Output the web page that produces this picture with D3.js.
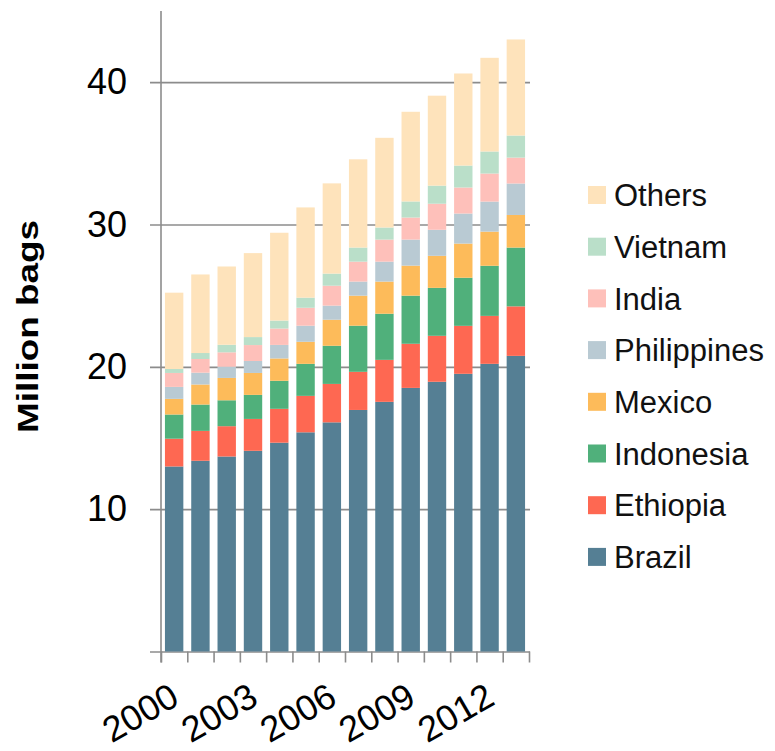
<!DOCTYPE html>
<html>
<head>
<meta charset="utf-8">
<script src="https://cdn.jsdelivr.net/npm/d3@7"></script>
<style>
	body { margin: 0; background: #fff; }
	svg { display: block; font-family: "Liberation Sans", Arial, sans-serif; }
</style>
</head>
<body>
<script>
const years = ["2000", "2001", "2002", "2003", "2004", "2005", "2006", "2007", "2008", "2009", "2010", "2011", "2012", "2013"];
const countries = ["Brazil", "Ethiopia", "Indonesia", "Mexico", "Philippines", "India", "Vietnam", "Others"];
const colors = ["#557f94", "#fe6852", "#50b07b", "#fdbb5a", "#b9cad3", "#fec0ba", "#badfc9", "#fee3bb"];

// million bags per country, one value per year
const brazil = [13.0, 13.4, 13.7, 14.1, 14.67, 15.4, 16.1, 16.97, 17.54, 18.52, 18.95, 19.51, 20.21, 20.77];
const ethiopia = [1.95, 2.1, 2.13, 2.24, 2.38, 2.56, 2.7, 2.68, 2.95, 3.1, 3.23, 3.37, 3.37, 3.48];
const indonesia = [1.7, 1.85, 1.82, 1.69, 1.97, 2.25, 2.68, 3.24, 3.24, 3.38, 3.37, 3.38, 3.52, 4.13];
const mexico = [1.1, 1.41, 1.57, 1.54, 1.57, 1.55, 1.83, 2.11, 2.26, 2.11, 2.25, 2.4, 2.4, 2.29];
const philippines = [0.84, 0.83, 0.79, 0.84, 0.95, 1.13, 0.99, 0.99, 1.4, 1.83, 1.83, 2.11, 2.11, 2.21];
const india = [0.98, 0.96, 1.01, 1.12, 1.15, 1.26, 1.4, 1.4, 1.55, 1.55, 1.83, 1.83, 1.97, 1.82];
const vietnam = [0.28, 0.42, 0.53, 0.56, 0.56, 0.71, 0.85, 0.99, 0.85, 1.13, 1.27, 1.54, 1.55, 1.55];
const others = [5.36, 5.52, 5.5, 5.9, 6.17, 6.34, 6.34, 6.2, 6.3, 6.3, 6.32, 6.47, 6.58, 6.75];

const yTicks = [0, 10, 20, 30, 40];
const xLabels = ["2000", "2003", "2006", "2009", "2012"];

const series = [brazil, ethiopia, indonesia, mexico, philippines, india, vietnam, others];
const table = years.map((yr, i) => {
	const row = { year: yr };
	countries.forEach((c, j) => (row[c] = series[j][i]));
	return row;
});

const width = 775;
const height = 751;
const left = 161;
const right = 529;
const grey = "#8c8c8c";

const svg = d3.select("body").append("svg").attr("width", width).attr("height", height);

const x = d3.scaleBand().domain(years).range([left, right]).paddingInner(0.3).paddingOuter(0.15);
const y = d3.scaleLinear().domain([0, 45]).range([651.5, 11]);
const color = d3.scaleOrdinal().domain(countries).range(colors);

// gridlines with the y ticks
const yAxis = svg
	.append("g")
	.attr("transform", "translate(" + left + ",0)")
	.call(d3.axisLeft(y).tickValues(yTicks).tickSize(11).tickPadding(23).tickFormat((d) => (d === 0 ? "" : d)));
yAxis.select(".domain").remove();
yAxis.selectAll(".tick line").attr("x1", -11).attr("x2", right - left + 1).attr("stroke", grey).attr("stroke-width", 1.6);
yAxis.selectAll(".tick text").attr("font-size", 36).attr("fill", "#000").attr("font-family", null);

// vertical axis line
svg
	.append("line")
	.attr("x1", left)
	.attr("x2", left)
	.attr("y1", y(45))
	.attr("y2", y(0) + 11)
	.attr("stroke", grey)
	.attr("stroke-width", 1.6);

// tick marks between categories
const edges = d3.scaleLinear().domain([0, years.length]).range([left, right]);
const xTickAxis = svg
	.append("g")
	.attr("transform", "translate(0," + y(0) + ")")
	.call(d3.axisBottom(edges).tickValues(d3.range(years.length + 1)).tickSize(11).tickFormat(""));
xTickAxis.select(".domain").remove();
xTickAxis.selectAll(".tick line").attr("stroke", grey).attr("stroke-width", 1.6);

// stacked bars
svg
	.append("g")
	.selectAll("g")
	.data(d3.stack().keys(countries)(table))
	.join("g")
	.attr("fill", (d) => color(d.key))
	.selectAll("rect")
	.data((d) => d)
	.join("rect")
	.attr("x", (d) => x(d.data.year))
	.attr("width", x.bandwidth())
	.attr("y", (d) => y(d[1]))
	.attr("height", (d) => y(d[0]) - y(d[1]));

// year labels
const xAxis = svg
	.append("g")
	.attr("transform", "translate(0," + y(0) + ")")
	.call(d3.axisBottom(x).tickValues(xLabels).tickSize(0));
xAxis.select(".domain").remove();
xAxis
	.selectAll(".tick text")
	.attr("font-size", 36)
	.attr("font-family", null)
	.attr("fill", "#000")
	.attr("y", 0)
	.attr("dy", 0)
	.attr("text-anchor", "end")
	.attr("transform", "translate(7,52) rotate(-30)");

// axis title
svg
	.append("text")
	.attr("transform", "translate(38,326.5) rotate(-90)")
	.attr("text-anchor", "middle")
	.attr("font-size", 30)
	.attr("font-weight", "bold")
	.attr("textLength", 213)
	.attr("lengthAdjust", "spacingAndGlyphs")
	.text("Million bags");

// legend, top to bottom as stacked
const legend = svg
	.append("g")
	.selectAll("g")
	.data(countries.slice().reverse())
	.join("g")
	.attr("transform", (d, i) => "translate(588," + (195 + i * 51.7) + ")");
legend
	.append("rect")
	.attr("y", -9)
	.attr("width", 18)
	.attr("height", 18)
	.attr("fill", (d) => color(d));
legend
	.append("text")
	.attr("x", 26)
	.attr("dy", "0.36em")
	.attr("font-size", 31)
	.attr("fill", "#111")
	.text((d) => d);
</script>
</body>
</html>
